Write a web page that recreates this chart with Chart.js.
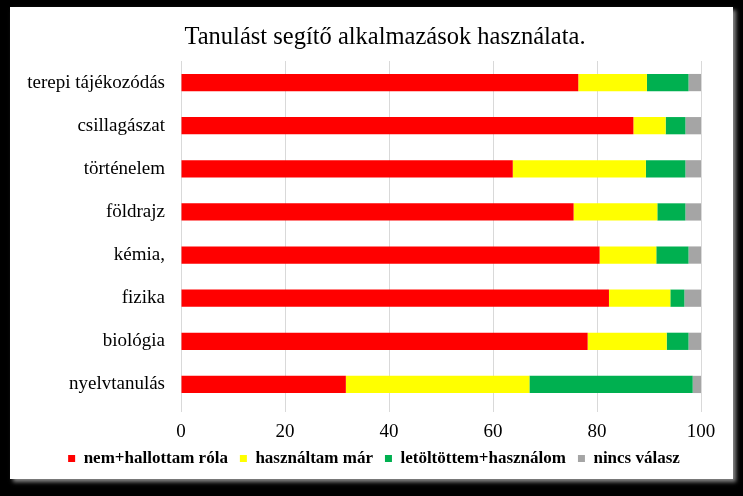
<!DOCTYPE html>
<html>
<head>
<meta charset="utf-8">
<script src="https://cdn.jsdelivr.net/npm/chart.js@4"></script>
<style>
  html, body { margin: 0; padding: 0; background: #000; width: 743px; height: 496px; overflow: hidden; }
  #box { position: absolute; left: 10px; top: 7px; width: 723px; height: 472px; background: #fff;
         box-shadow: 3px 3px 4px rgba(150,150,150,0.9); }
  canvas { display: block; }
</style>
</head>
<body>
<div id="box"><canvas id="c" width="723" height="472"></canvas></div>
<script>
const TITLE = "Tanulást segítő alkalmazások használata.";
const categories = ["terepi tájékozódás", "csillagászat", "történelem", "földrajz", "kémia,", "fizika", "biológia", "nyelvtanulás"];
const seriesNames = ["nem+hallottam róla", "használtam már", "letöltöttem+használom", "nincs válasz"];
const nemHallottam = [76.4, 87.0, 63.8, 75.5, 80.5, 82.3, 78.2, 31.7];
const hasznaltam   = [13.2, 6.2, 25.6, 16.1, 10.9, 11.8, 15.2, 35.3];
const letoltottem  = [8.0, 3.8, 7.6, 5.4, 6.2, 2.7, 4.2, 31.4];
const nincsValasz  = [2.4, 3.0, 3.0, 3.0, 2.4, 3.2, 2.4, 1.6];
const xTicks = [0, 20, 40, 60, 80, 100];
const colors = ["#FF0000", "#FFFF00", "#00B050", "#A5A5A5"];

const SERIF = "'Liberation Serif', 'Times New Roman', serif";

const titlePlugin = {
  id: 'customTitle',
  afterLayout(chart) {
    // centre the legend on the whole frame rather than on the padded area
    if (chart.legend) { chart.legend.right += 37; }
  },
  afterDraw(chart) {
    const ctx = chart.ctx;
    ctx.save();
    ctx.font = "24.5px " + SERIF;
    ctx.fillStyle = "#000";
    ctx.textAlign = "center";
    ctx.textBaseline = "middle";
    ctx.fillText(TITLE, 375, 31);
    ctx.restore();
  }
};

const values = [nemHallottam, hasznaltam, letoltottem, nincsValasz];
new Chart(document.getElementById('c'), {
  type: 'bar',
  data: {
    labels: categories,
    datasets: seriesNames.map((n, i) => ({
      label: n,
      data: values[i],
      backgroundColor: colors[i],
      borderWidth: 0,
      categoryPercentage: 1,
      barPercentage: 0.4
    }))
  },
  options: {
    indexAxis: 'y',
    responsive: false,
    animation: false,
    devicePixelRatio: 1,
    layout: { padding: { top: 54, right: 32, left: 0, bottom: 2 } },
    plugins: {
      title: { display: false },
      tooltip: { enabled: false },
      legend: {
        position: 'bottom',
        labels: {
          boxWidth: 7, boxHeight: 7, padding: 12,
          color: '#000',
          font: { family: SERIF, size: 17, weight: 'bold' }
        }
      }
    },
    scales: {
      x: {
        stacked: true,
        min: 0, max: 100,
        afterBuildTicks(scale) { scale.ticks = xTicks.map(v => ({ value: v })); },
        afterFit(scale) { scale.height = 32; },
        grid: { color: '#D9D9D9', lineWidth: 1, tickLength: 6, drawTicks: true },
        border: { display: false },
        ticks: { color: '#000', padding: 9, font: { family: SERIF, size: 19 } }
      },
      y: {
        stacked: true,
        afterFit(scale) { scale.width = 171; },
        grid: { display: false },
        border: { display: true, color: '#D9D9D9' },
        ticks: { color: '#000', padding: 8, font: { family: SERIF, size: 19 } }
      }
    }
  },
  plugins: [titlePlugin]
});
</script>
</body>
</html>
